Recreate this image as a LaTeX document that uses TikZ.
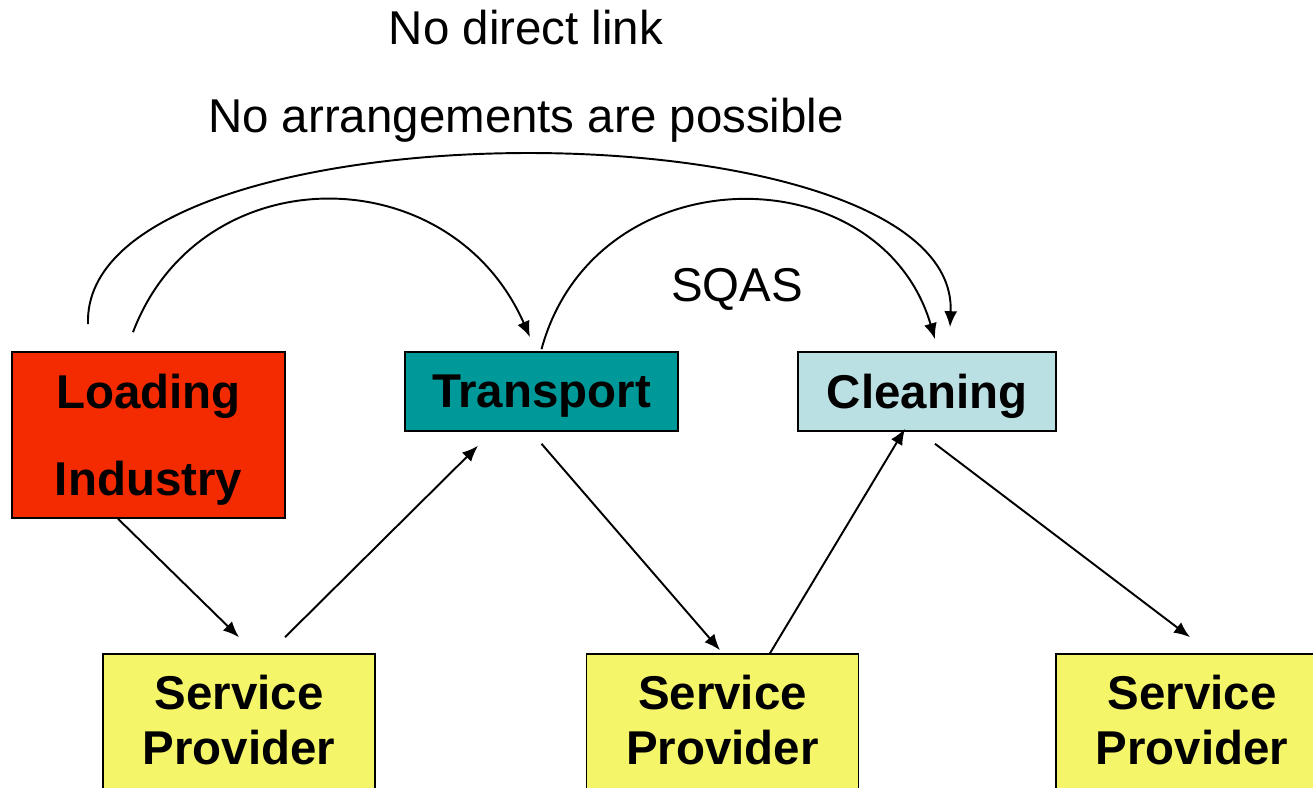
\documentclass[tikz,border=0pt]{standalone}
\usepackage{fontspec}
\setmainfont{Liberation Sans}
\usetikzlibrary{arrows.meta}
\definecolor{loadred}{RGB}{244,42,0}
\definecolor{transteal}{RGB}{0,153,153}
\definecolor{cleancyan}{RGB}{187,224,227}
\definecolor{spyellow}{RGB}{245,245,106}
\begin{document}
\begin{tikzpicture}[
  box/.style={draw, rectangle, line width=0.9pt, inner sep=0pt, align=center,
    text depth=0pt, font=\fontsize{27}{49.5}\selectfont\bfseries},
  spbox/.style={box, fill=spyellow, minimum width=5.44cm, minimum height=2.84cm,
    text depth=0.2cm, font=\fontsize{27}{31.3}\selectfont\bfseries},
  arr/.style={-{Latex[length=0.32cm,width=0.26cm]}, line width=1.1pt},
  lbl/.style={anchor=base, font=\fontsize{27}{30}\selectfont}
]
\useasboundingbox (0,0) rectangle (26.26,15.76);
\clip (0,0) rectangle (26.26,15.76);

% Parties
\node[box, fill=loadred, minimum width=5.46cm, minimum height=3.32cm] (ld) at (2.97,7.06) {Loading\\Industry};
\node[box, fill=transteal, minimum width=5.46cm, minimum height=1.58cm] (tr) at (10.83,7.93) {Transport};
\node[box, fill=cleancyan, minimum width=5.16cm, minimum height=1.58cm] (cl) at (18.54,7.93) {Cleaning};

% Service providers
\node[spbox] (sp1) at (4.78,1.26) {Service\\Provider};
\node[spbox] (sp2) at (14.45,1.26) {Service\\Provider};
\node[spbox] (sp3) at (23.84,1.26) {Service\\Provider};

% Links through service providers
\draw[arr] ([xshift=-0.61cm]ld.south) -- ([yshift=0.32cm]sp1.north);
\draw[arr] ([shift={(0.92,0.32)}]sp1.north) -- ([shift={(-1.27,-0.28)}]tr.south);
\draw[arr] ([yshift=-0.24cm]tr.south) -- ([shift={(-0.05,0.06)}]sp2.north);
\draw[arr] ([xshift=0.95cm]sp2.north) -- ([shift={(-0.44,0.06)}]cl.south);
\draw[arr] ([shift={(0.16,-0.24)}]cl.south) -- ([shift={(-0.04,0.32)}]sp3.north);

% Direct links
\draw[arr] ([shift={(-0.31,0.38)}]ld.north) .. controls (4.0,12.65) and (9.0,12.65) .. ([shift={(-0.23,0.28)}]tr.north);
\draw[arr] ([shift={(-1.21,0.54)}]ld.north) .. controls (1.6,13.8) and (19.2,13.8) .. ([shift={(0.46,0.48)}]cl.north);
\draw[arr] ([yshift=0.04cm]tr.north) .. controls (11.9,12.7) and (17.6,12.7) .. ([shift={(0.16,0.24)}]cl.north);

% Labels
\node[lbl] (nolink) at (10.52,14.86) {No direct link};
\node[lbl] (noarr) at (10.52,13.10) {No arrangements are possible};
\node[lbl] (sqas) at (14.74,9.72) {SQAS};
\end{tikzpicture}
\end{document}
